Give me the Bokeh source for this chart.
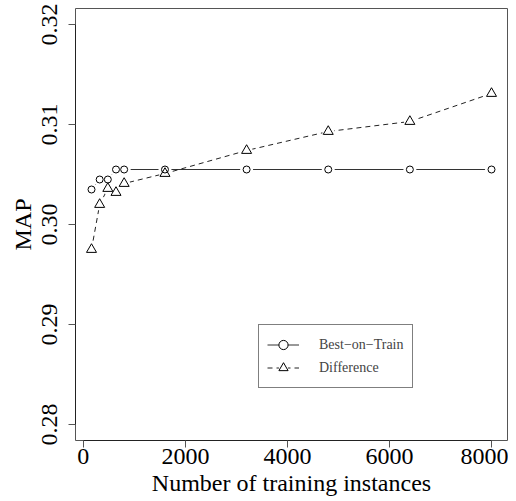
from bokeh.plotting import figure
from bokeh.models import Range1d, Legend, LegendItem, FixedTicker, PrintfTickFormatter
from bokeh.embed import file_html
from bokeh.resources import INLINE

# ---- data ----
instances = [160, 320, 480, 640, 800, 1600, 3200, 4800, 6400, 8000]
best_on_train = [0.3035, 0.3045, 0.3045, 0.3055, 0.3055, 0.3055, 0.3055, 0.3055, 0.3055, 0.3055]
difference = [0.2975, 0.3020, 0.3036, 0.3032, 0.3041, 0.3051, 0.3074, 0.3093, 0.3103, 0.3131]
x_ticks = [0, 2000, 4000, 6000, 8000]
y_ticks = [0.28, 0.29, 0.30, 0.31, 0.32]
series_names = ["Best\u2212on\u2212Train", "Difference"]

FONT = "Liberation Serif"

# R-style 4% axis extension
xmin, xmax = min(instances), max(instances)
xpad = (xmax - xmin) * 0.04
ymin, ymax = y_ticks[0], y_ticks[-1]
ypad = (ymax - ymin) * 0.04

p = figure(width=508, height=501, output_backend="svg", toolbar_location=None,
           x_range=Range1d(xmin - xpad, xmax + xpad),
           y_range=Range1d(ymin - ypad, ymax + ypad),
           min_border_left=75, min_border_right=1, min_border_top=8, min_border_bottom=61)

p.xgrid.visible = False
p.ygrid.visible = False
p.outline_line_color = "#555555"
p.outline_line_width = 1
p.background_fill_color = "white"
p.border_fill_color = "white"

for ax in (p.xaxis[0], p.yaxis[0]):
    ax.axis_line_color = "#222222"
    ax.major_tick_line_color = "#555555"
    ax.major_tick_out = 7
    ax.major_tick_in = 0
    ax.minor_tick_line_color = None
    ax.major_label_text_font = FONT
    ax.major_label_text_font_size = "24px"
    ax.major_label_text_color = "black"
    ax.axis_label_text_font = FONT
    ax.axis_label_text_font_size = "24px"
    ax.axis_label_text_font_style = "normal"
    ax.axis_label_text_color = "black"

p.xaxis.ticker = FixedTicker(ticks=x_ticks)
p.xaxis.bounds = (x_ticks[0], x_ticks[-1])
p.xaxis.axis_label = "Number of training instances"
p.xaxis.major_label_standoff = 1
p.xaxis.axis_label_standoff = 3

p.yaxis.ticker = FixedTicker(ticks=y_ticks)
p.yaxis.formatter = PrintfTickFormatter(format="%.2f")
p.yaxis.bounds = (y_ticks[0], y_ticks[-1])
p.yaxis.axis_label = "MAP"
p.yaxis.major_label_orientation = "parallel"
p.yaxis.major_label_standoff = 12
p.yaxis.axis_label_standoff = 3

# series 1: solid line with circles (gaps around points like R type="b")
l1 = p.line(instances, best_on_train, line_color="#333333", line_width=1)
g1 = p.scatter(instances, best_on_train, marker="circle", size=13,
               fill_color="white", line_color=None)
# series 2: dashed line with triangles
l2 = p.line(instances, difference, line_color="#222222", line_width=1, line_dash="5 4")
g2 = p.scatter(instances, difference, marker="circle", size=12,
               fill_color="white", line_color=None)
m1 = p.scatter(instances, best_on_train, marker="circle", size=7,
               fill_color=None, line_color="black", line_width=1)
m2 = p.scatter(instances, difference, marker="triangle", size=10,
               fill_color=None, line_color="black", line_width=1)

legend = Legend(items=[LegendItem(label=series_names[0], renderers=[l1, g1, m1]),
                       LegendItem(label=series_names[1], renderers=[l2, g2, m2])],
                location=(183, 52), orientation="vertical",
                label_text_font=FONT, label_text_font_size="14px",
                border_line_color="black", border_line_width=1,
                background_fill_color="white", background_fill_alpha=1,
                glyph_width=32, glyph_height=23, label_height=23, label_standoff=20,
                padding=8, spacing=0, margin=0)
p.add_layout(legend, "center")

open("out.html", "w").write(file_html(p, INLINE))
